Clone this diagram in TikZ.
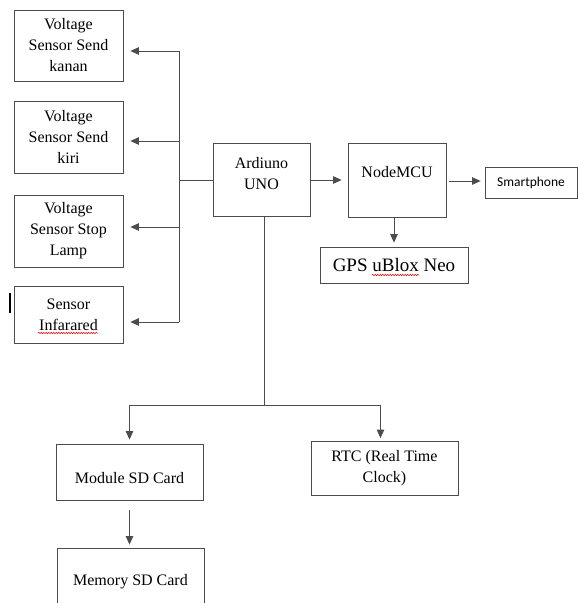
\documentclass[tikz,border=0pt]{standalone}
\usepackage{fontspec}
\setmainfont{Liberation Serif}
\newfontfamily\serifface{Liberation Serif}
\newfontfamily\calibri{Carlito}
\usetikzlibrary{arrows.meta,decorations.pathmorphing}

\begin{document}
\begin{tikzpicture}[
    x=1pt, y=-1pt,
    box/.style={rectangle, draw=black!70, line width=0.8pt, align=center, inner sep=3pt, font=\serifface\fontsize{16}{21}\selectfont},
    sensor/.style={box, minimum width=109pt},
    wide/.style={box, minimum width=147pt},
    line/.style={draw=black!70, line width=0.8pt},
    arrow/.style={line, -{Triangle[length=8.5pt,width=7.5pt]}},
    typo/.style={red, line width=0.5pt, decorate, decoration={snake, amplitude=0.7pt, segment length=2.5pt}}
  ]
    \useasboundingbox (0,0) rectangle (578,603);

    % Sensor column
    \node[sensor, minimum height=71pt] (kanan) at (68.5,45.5) {Voltage\\Sensor Send\\kanan};
    \node[sensor, minimum height=72pt] (kiri) at (68.5,137) {Voltage\\Sensor Send\\kiri};
    \node[sensor, minimum height=72pt] (stop) at (68.5,231) {Voltage\\Sensor Stop\\Lamp};
    \node[sensor, minimum height=57pt] (infra) at (68.5,314.5) {Sensor\\Infarared};

    % Controllers
    \node[box, minimum width=97pt, minimum height=73pt, text height=43pt, text depth=24pt] (uno) at (261.5,179.5) {Ardiuno\\UNO};
    \node[box, minimum width=98pt, minimum height=74pt, text height=31pt, text depth=37pt] (mcu) at (397,180) {NodeMCU};
    \node[box, minimum width=92pt, minimum height=31pt, font=\calibri\fontsize{13.5}{16}\selectfont] (phone) at (531,182.5) {Smartphone};
    \node[box, minimum width=148pt, minimum height=36pt, font=\serifface\fontsize{19}{23}\selectfont] (gps) at (394,265) {GPS uBlox Neo};

    % Storage and clock
    \node[wide, minimum height=56pt, text height=36pt, text depth=14pt] (module) at (129.5,472) {Module SD Card};
    \node[wide, minimum height=54pt] (rtc) at (384.5,468.5) {RTC (Real Time\\Clock)};
    \node[wide, minimum height=67pt] (memory) at (130.5,581.5) {Memory SD Card};

    % Bus to the sensors
    \coordinate (b1) at (179,51);
    \coordinate (b2) at (179,141);
    \coordinate (b3) at (179,227);
    \coordinate (b4) at (179,322);
    \draw[line] (b1) -- (b4);
    \draw[line] (uno.west |- 0,180.5) -- (b1 |- 0,180.5);
    \foreach \s/\b in {kanan/b1, kiri/b2, stop/b3, infra/b4}
      \draw[arrow, shorten >=7pt] (\b) -- (\s.east |- \b);

    % Arduino, NodeMCU and outputs
    \draw[arrow, shorten >=6pt] (uno.east |- mcu.west) -- (mcu.west);
    \draw[arrow, shorten <=3pt, shorten >=4pt] (mcu.east |- 0,181) -- (phone.west |- 0,181);
    \draw[arrow, shorten >=4pt] (mcu.south -| gps) -- (gps.north);

    % Arduino down to SD card and RTC
    \coordinate (split) at (264,405);
    \draw[line] (uno.south -| split) -- (split);
    \draw[arrow, shorten >=4pt] (split) -| (module.north);
    \draw[arrow, shorten >=3pt] (split) -| ([xshift=-4pt]rtc.north);
    \draw[arrow, shorten <=10pt, shorten >=3pt] (module.south) -- (module.south |- memory.north);

    % Marks left in the picture
    \draw[line width=1.2pt] (10,293) -- (10,313);
    \draw[typo] (38,333) -- (98,333);
    \draw[typo] (372,275) -- (419,275);
\end{tikzpicture}
\end{document}
